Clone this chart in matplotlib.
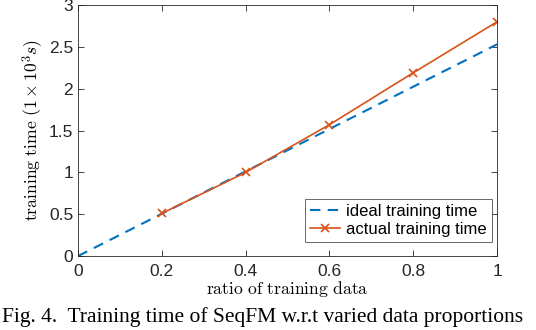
import numpy as np
import matplotlib
matplotlib.use("Agg")
import matplotlib.pyplot as plt

plt.rcParams['mathtext.fontset'] = 'cm'

# data
ratio_ideal = [0, 0.2, 0.4, 0.6, 0.8, 1.0]
time_ideal = [0, 0.506, 1.012, 1.518, 2.024, 2.53]
ratio_actual = [0.2, 0.4, 0.6, 0.8, 1.0]
time_actual = [0.51, 1.0, 1.57, 2.19, 2.80]

xticks = [0, 0.2, 0.4, 0.6, 0.8, 1]
xticklabels = ['0', '0.2', '0.4', '0.6', '0.8', '1']
yticks = [0, 0.5, 1, 1.5, 2, 2.5, 3]
yticklabels = ['0', '0.5', '1', '1.5', '2', '2.5', '3']

fig = plt.figure(figsize=(5.36, 3.30), dpi=100)
ax = fig.add_axes([0.1455, 0.224, 0.782, 0.761])

ax.plot(ratio_ideal, time_ideal, '--', color='#0072BD', lw=1.5, dashes=(5, 3.5),
        label='ideal training time')
ax.plot(ratio_actual, time_actual, '-x', color='#D95319', lw=1.2, ms=6, mew=1.2,
        label='actual training time')

ax.set_xlim(0, 1)
ax.set_ylim(0, 3)
ax.set_xticks(xticks)
ax.set_xticklabels(xticklabels, family='Liberation Sans')
ax.set_yticks(yticks)
ax.set_yticklabels(yticklabels, family='Liberation Sans')
ax.tick_params(direction='in', top=True, right=True, labelsize=12.5, length=4,
               width=0.6, colors='#262626', labelcolor='#262626')
ax.tick_params(axis='x', pad=6)
for s in ax.spines.values():
    s.set_linewidth(0.6)
    s.set_color('#262626')

ax.set_xlabel(r'$\mathrm{ratio\ of\ training\ data}$', fontsize=12.7, labelpad=0)
ax.set_ylabel(r'$\mathrm{training\ time}\ (1\times10^3s)$', fontsize=12.7, labelpad=2)

leg = ax.legend(loc='lower right', bbox_to_anchor=(0.988, 0.055),
                prop={'family': 'Liberation Sans', 'size': 12},
                frameon=True, fancybox=False,
                edgecolor='#262626', handlelength=1.8, borderpad=0.3,
                labelspacing=0.2, handletextpad=0.4, borderaxespad=0)
leg.get_frame().set_linewidth(0.6)

# caption is clipped in the source crop; sized here so it just fits
fig.text(0.004, 0.024, 'Fig. 4.  Training time of SeqFM w.r.t varied data proportions',
         family='Liberation Serif', fontsize=15.5, ha='left', va='baseline')

fig.savefig('out.png', dpi=100)
